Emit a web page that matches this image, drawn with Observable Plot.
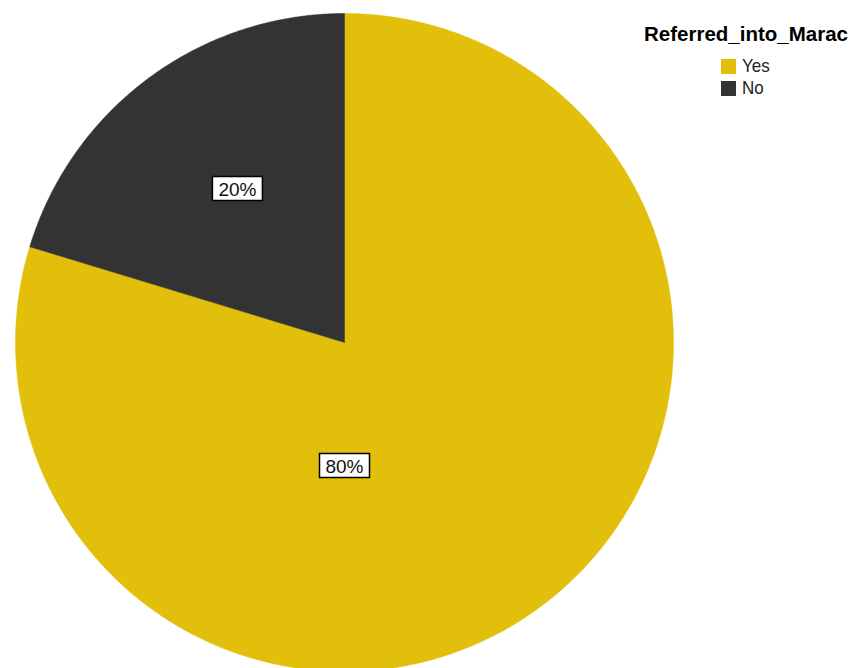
<!DOCTYPE html>
<html><head><meta charset="utf-8">
<script src="https://cdn.jsdelivr.net/npm/d3@7"></script>
<script src="https://cdn.jsdelivr.net/npm/@observablehq/plot@0.6"></script>
<style>
body{margin:0;background:#fff;font-family:"Liberation Sans",Arial,sans-serif;}
#wrap{position:relative;width:856px;height:668px;overflow:hidden;}
#legend{position:absolute;left:630px;top:0;width:232px;}
#legend .title{position:absolute;left:0;width:232px;top:22px;text-align:center;font-weight:bold;font-size:20.5px;line-height:24px;}
#legend .item{position:absolute;left:91px;height:16px;font-size:17px;line-height:16px;}
#legend .sw{display:inline-block;width:15px;height:15px;vertical-align:top;margin-top:0px;margin-right:6px;}
#legend .lbl{display:inline-block;transform:scaleY(1.12);transform-origin:50% 60%;color:#222;}
</style></head><body>
<div id="wrap"><div id="chart"></div><div id="legend"></div></div>
<script>
const categories = ["Yes", "No"];
const values = [79.7, 20.3];
const colors = ["#e1bf0b", "#333333"];
const legendTitle = "Referred_into_Marac";

const total = d3.sum(values);
let acc = 0;
const slices = categories.map((c, i) => {
  const a0 = acc / total * 2 * Math.PI;
  acc += values[i];
  const a1 = acc / total * 2 * Math.PI;
  return {category: c, value: values[i], a0, a1};
});
// outline points of each slice (geometry from the data angles)
const pts = [];
for (const s of slices) {
  pts.push({category: s.category, x: 0, y: 0});
  const n = Math.max(2, Math.ceil((s.a1 - s.a0) / (Math.PI / 360)));
  for (let k = 0; k <= n; k++) {
    const a = s.a0 + (s.a1 - s.a0) * k / n;
    pts.push({category: s.category, x: Math.sin(a), y: Math.cos(a)});
  }
  pts.push({category: s.category, x: 0, y: 0});
}
// label anchors: small slices at mid-angle, large slice lowered toward bottom
const labels = slices.map(s => {
  const frac = s.value / total;
  let a = (s.a0 + s.a1) / 2 + 0.03, r = 0.57;
  if (frac > 0.5) { a = Math.PI; r = 0.374; }
  return {x: Math.sin(a) * r, y: Math.cos(a) * r, text: Math.round(frac * 100) + "%"};
});
const boxSymbol = {draw(ctx) { ctx.rect(-25, -12, 50, 24); }};

const chart = Plot.plot({
  width: 856, height: 668, margin: 0,
  style: {background: "white", fontFamily: "Liberation Sans, Arial, sans-serif"},
  x: {domain: [-1, 1], range: [15, 673], axis: null},
  y: {domain: [-1, 1], range: [671, 13], axis: null},
  color: {domain: categories, range: colors},
  marks: [
    Plot.line(pts, {x: "x", y: "y", z: "category", fill: "category", stroke: "category", strokeWidth: 0.5}),
    Plot.dot(labels, {x: "x", y: "y", symbol: boxSymbol, fill: "white", stroke: "black", strokeWidth: 1.5, r: 10}),
    Plot.text(labels, {x: "x", y: "y", text: "text", fontSize: 19, fill: "#111", dy: 1})
  ]
});
document.getElementById("chart").appendChild(chart);

const leg = document.getElementById("legend");
const t = document.createElement("div");
t.className = "title"; t.textContent = legendTitle; leg.appendChild(t);
categories.forEach((c, i) => {
  const it = document.createElement("div");
  it.className = "item"; it.style.top = (59 + i * 22) + "px";
  it.innerHTML = `<span class="sw" style="background:${colors[i]}"></span><span class="lbl">${c}</span>`;
  leg.appendChild(it);
});
</script>
</body></html>
